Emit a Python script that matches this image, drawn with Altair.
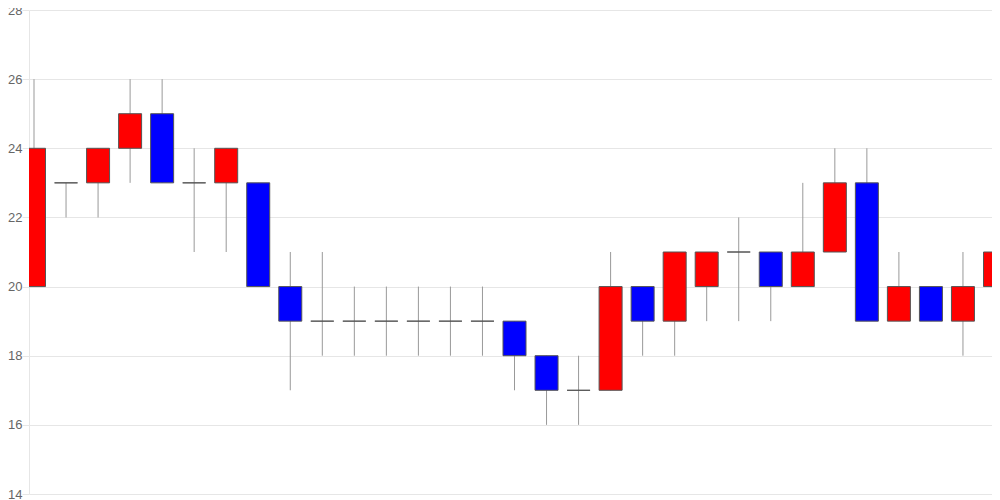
import altair as alt
import pandas as pd

idx = list(range(31))
open_ = [20, 23, 23, 24, 25, 23, 23, 23, 20, 19, 19, 19, 19, 19, 19, 19, 18, 17, 17, 20, 19, 20, 21, 21, 20, 21, 23, 19, 20, 19, 20]
close = [24, 23, 24, 25, 23, 23, 24, 20, 19, 19, 19, 19, 19, 19, 19, 18, 17, 17, 20, 19, 21, 21, 21, 20, 21, 23, 19, 20, 19, 20, 21]
high = [26, 23, 24, 26, 26, 24, 24, 23, 21, 21, 20, 20, 20, 20, 20, 19, 18, 18, 21, 20, 21, 21, 22, 21, 23, 24, 24, 21, 20, 21, 22]
low = [20, 22, 22, 23, 23, 21, 21, 20, 17, 18, 18, 18, 18, 18, 18, 17, 16, 16, 17, 18, 18, 19, 19, 19, 20, 21, 19, 19, 19, 18, 20]
y_ticks = [14, 16, 18, 20, 22, 24, 26, 28]

df = pd.DataFrame({"i": idx, "open": open_, "close": close, "high": high, "low": low})
df["dir"] = ["up" if c > o else ("down" if c < o else "flat") for o, c in zip(open_, close)]

# last candle sits on the (off-screen) right edge, as in the reference
x = alt.X("i:Q", scale=alt.Scale(domain=[0, 30], range=[0, 971], nice=False, zero=False), axis=None)
yscale = alt.Scale(domain=[14, 28], nice=False, zero=False)

base = alt.Chart(df)

wick = base.mark_rule(color="#999999", strokeWidth=1, clip=True).encode(
    x=x,
    y=alt.Y("low:Q", scale=yscale,
            axis=alt.Axis(values=y_ticks, title=None, grid=True, gridColor="#e6e6e6",
                          domainColor="#e6e6e6", tickColor="#e6e6e6", tickSize=7,
                          labelPadding=0, labelColor="#666666", labelFontSize=13,
                          labelFont="Liberation Sans")),
    y2="high:Q",
)

body = base.mark_bar(size=23, stroke="#555555", strokeWidth=1, clip=True).encode(
    x=x,
    y=alt.Y("open:Q", scale=yscale),
    y2="close:Q",
    color=alt.Color("dir:N", scale=alt.Scale(domain=["up", "down", "flat"],
                                             range=["#ff0000", "#0000ff", "#ff0000"]),
                    legend=None),
)

chart = (wick + body).properties(
    width=963, height=484,
    autosize=alt.AutoSizeParams(type="none"),
    padding={"left": 21, "top": 2, "right": 0, "bottom": 6},
).configure_view(stroke=None)

chart.save("out.html", embed_options={"renderer": "svg", "actions": False})
